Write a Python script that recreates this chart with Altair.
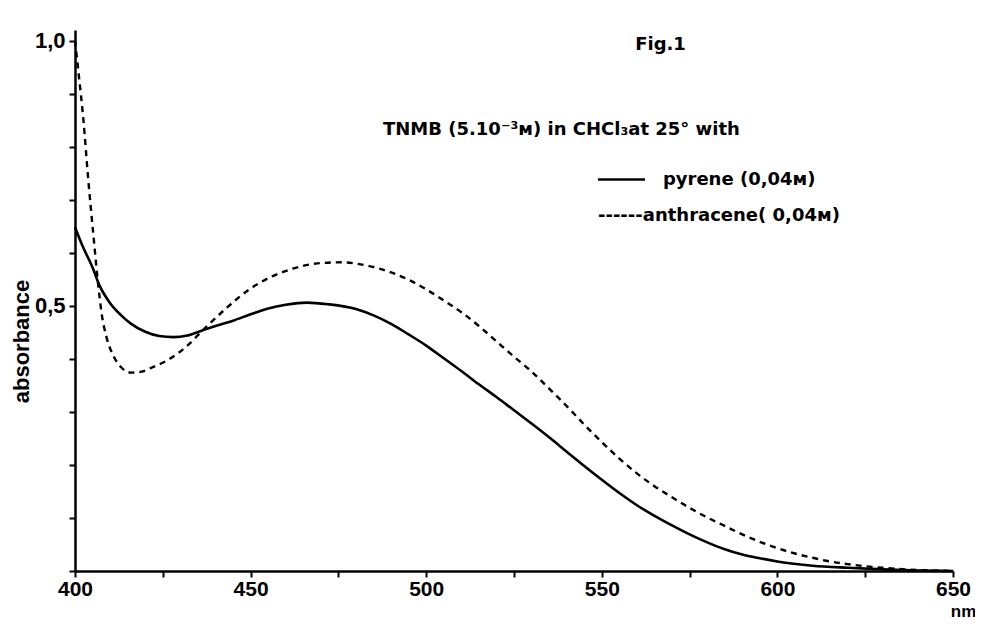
import altair as alt
import pandas as pd

# ---- data (wavelength nm, absorbance) ----
pyrene_nm = [400, 402, 405, 407, 410, 413, 416, 420, 424, 428, 432, 436, 440, 445, 450,
             455, 460, 466, 472, 480, 485, 490, 495, 500, 505, 510, 515, 520, 525, 530,
             535, 540, 545, 550, 555, 560, 565, 570, 575, 580, 585, 590, 595, 600, 610,
             620, 630, 640, 650]
pyrene_abs = [0.648, 0.615, 0.572, 0.538, 0.505, 0.483, 0.466, 0.451, 0.443, 0.441, 0.444,
              0.453, 0.462, 0.472, 0.484, 0.495, 0.502, 0.506, 0.503, 0.494, 0.482, 0.466,
              0.446, 0.425, 0.401, 0.377, 0.352, 0.328, 0.303, 0.278, 0.252, 0.225, 0.198,
              0.172, 0.147, 0.124, 0.104, 0.086, 0.069, 0.054, 0.041, 0.031, 0.024, 0.018,
              0.010, 0.006, 0.003, 0.001, 0.0]

anth_nm = [400, 401, 402.4, 403.8, 405.2, 406.6, 407.6, 409, 411, 413, 416, 419, 422, 427,
           432, 437, 443, 449, 455, 462, 469, 476, 483, 490, 495, 500, 505, 510, 515, 520,
           525, 530, 535, 540, 545, 550, 555, 560, 565, 570, 575, 580, 585, 590, 595, 600,
           605, 610, 615, 620, 625, 630, 640, 650]
anth_abs = [1.0, 0.94, 0.85, 0.736, 0.636, 0.54, 0.485, 0.44, 0.405, 0.385, 0.374, 0.376,
            0.384, 0.40, 0.425, 0.458, 0.495, 0.528, 0.552, 0.570, 0.580, 0.582, 0.576,
            0.563, 0.549, 0.531, 0.510, 0.488, 0.462, 0.433, 0.404, 0.376, 0.344, 0.311,
            0.276, 0.243, 0.212, 0.184, 0.160, 0.139, 0.119, 0.101, 0.085, 0.069, 0.055,
            0.043, 0.033, 0.025, 0.018, 0.013, 0.009, 0.006, 0.002, 0.0]

x_ticks = [400, 425, 450, 475, 500, 525, 550, 575, 600, 625, 650]
y_ticks = [0.0, 0.1, 0.2, 0.3, 0.4, 0.5, 0.6, 0.7, 0.8, 0.9, 1.0]

# annotation texts (placed in data coordinates)
ann_text = ["Fig.1", "TNMB (5.10⁻³ᴍ) in CHCl₃at 25° with", "pyrene  (0,04ᴍ)",
            "------anthracene( 0,04ᴍ)"]
ann_nm = [559.5, 487.7, 567.4, 548.9]
ann_abs = [0.992, 0.832, 0.738, 0.670]

swatch_nm = [548.9]
swatch_nm2 = [562.3]
swatch_abs = [0.738]

TICKFONT = "Liberation Sans"
TEXTFONT = "DejaVu Sans"

pyr = pd.DataFrame({"nm": pyrene_nm, "absorbance": pyrene_abs})
ant = pd.DataFrame({"nm": anth_nm, "absorbance": anth_abs})
ann = pd.DataFrame({"nm": ann_nm, "absorbance": ann_abs, "txt": ann_text})
sw = pd.DataFrame({"nm": swatch_nm, "nm2": swatch_nm2, "absorbance": swatch_abs})

xscale = alt.Scale(domain=[400, 650], nice=False, zero=False)
yscale = alt.Scale(domain=[0, 1.02], nice=False, zero=False)

x_enc = alt.X(
    "nm:Q", scale=xscale,
    axis=alt.Axis(
        values=x_ticks,
        labelExpr="datum.value % 50 == 0 ? '' + datum.value : ''",
        title="nm", titleX=888, titleY=45, titleAlign="center",
        titleBaseline="alphabetic", titleFontSize=17,
        labelPadding=1, labelFlush=False, labelFontSize=21,
    ),
)
y_enc = alt.Y(
    "absorbance:Q", scale=yscale,
    axis=alt.Axis(
        values=y_ticks,
        labelExpr="datum.value == 0.5 ? '0,5' : (datum.value == 1 ? '1,0' : '')",
        title="absorbance", titleX=-47, titleY=311, titleAlign="center",
        titleBaseline="alphabetic", titleAngle=-90, titleFontSize=22,
        labelPadding=4, labelFlush=False,
    ),
)

solid = alt.Chart(pyr).mark_line(
    color="black", strokeWidth=2.6, interpolate="monotone"
).encode(x=x_enc, y=y_enc)

dashed = alt.Chart(ant).mark_line(
    color="black", strokeWidth=2.4, strokeDash=[6, 5], interpolate="monotone"
).encode(x="nm:Q", y="absorbance:Q")

texts = alt.Chart(ann).mark_text(
    align="left", baseline="middle", font=TEXTFONT, fontWeight="bold",
    fontSize=18, color="black"
).encode(x="nm:Q", y="absorbance:Q", text="txt:N")

swatch = alt.Chart(sw).mark_rule(color="black", strokeWidth=2.6).encode(
    x="nm:Q", x2="nm2:Q", y="absorbance:Q"
)

chart = alt.layer(solid, dashed, swatch, texts).properties(
    width=878, height=541,
    autosize=alt.AutoSizeParams(type="none"),
    padding={"left": 67, "top": 22, "right": 22, "bottom": 48},
    background="white",
).configure_view(stroke=None).configure_axis(
    grid=False,
    domainColor="black", domainWidth=2.5,
    tickColor="black", tickWidth=2, tickSize=6,
    labelFont=TICKFONT, labelFontWeight="bold", labelFontSize=22, labelColor="black",
    titleFont=TICKFONT, titleFontWeight="bold", titleColor="black",
)

chart.save("out.html", embed_options={"renderer": "svg", "actions": False})
